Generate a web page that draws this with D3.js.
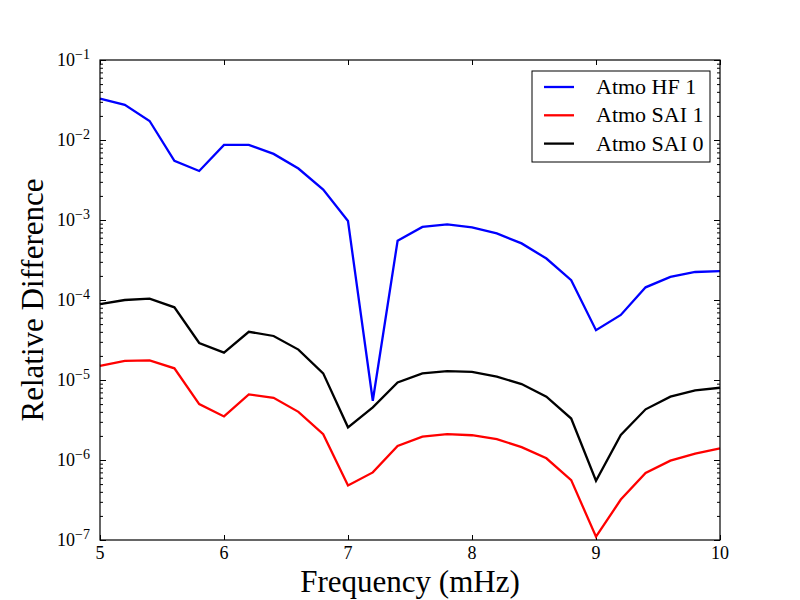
<!DOCTYPE html>
<html>
<head>
<meta charset="utf-8">
<script src="https://cdn.jsdelivr.net/npm/d3@7"></script>
<style>
  body { margin: 0; background: #fff; }
  text { font-family: "Liberation Serif", "DejaVu Serif", serif; fill: #000; }
</style>
</head>
<body>
<div id="chart"></div>
<script>
// Data
var freqs = [5.0, 5.2, 5.4, 5.6, 5.8, 6.0, 6.2, 6.4, 6.6, 6.8, 7.0, 7.2, 7.4,
  7.6, 7.8, 8.0, 8.2, 8.4, 8.6, 8.8, 9.0, 9.2, 9.4, 9.6, 9.8, 10.0];

var hf1 = [3.3e-2, 2.75e-2, 1.73e-2, 5.5e-3, 4.1e-3, 8.7e-3, 8.7e-3, 6.7e-3, 4.4e-3, 2.4e-3,
  9.7e-4, 5.5e-6, 5.5e-4, 8.2e-4, 8.8e-4, 8.1e-4, 6.8e-4, 5.1e-4, 3.3e-4, 1.77e-4,
  4.2e-5, 6.5e-5, 1.44e-4, 1.94e-4, 2.24e-4, 2.3e-4];

var sai1 = [1.5e-5, 1.73e-5, 1.76e-5, 1.4e-5, 5.0e-6, 3.5e-6, 6.6e-6, 6.0e-6, 4.0e-6, 2.1e-6,
  4.8e-7, 7.0e-7, 1.5e-6, 1.96e-6, 2.1e-6, 2.04e-6, 1.82e-6, 1.45e-6, 1.05e-6, 5.6e-7,
  1.1e-7, 3.2e-7, 6.9e-7, 9.8e-7, 1.2e-6, 1.4e-6];

var sai0 = [8.9e-5, 1.0e-4, 1.04e-4, 8.1e-5, 2.9e-5, 2.2e-5, 4.0e-5, 3.55e-5, 2.4e-5, 1.21e-5,
  2.56e-6, 4.55e-6, 9.3e-6, 1.21e-5, 1.29e-5, 1.26e-5, 1.1e-5, 8.9e-6, 6.2e-6, 3.3e-6,
  5.5e-7, 2.05e-6, 4.3e-6, 6.2e-6, 7.4e-6, 8.0e-6];

var seriesNames = ["Atmo HF 1", "Atmo SAI 1", "Atmo SAI 0"];
var seriesColors = ["#0000ff", "#ff0000", "#000000"];
var xTicks = [5, 6, 7, 8, 9, 10];
var yExponents = [-7, -6, -5, -4, -3, -2, -1];

var svgWidth = 800;
var svgHeight = 600;

var chartMargin = { top: 60, right: 80, bottom: 60, left: 100 };
var chartWidth = svgWidth - chartMargin.left - chartMargin.right;
var chartHeight = svgHeight - chartMargin.top - chartMargin.bottom;

var svg = d3.select("#chart")
  .append("svg")
  .attr("width", svgWidth)
  .attr("height", svgHeight);

var chartGroup = svg.append("g")
  .attr("transform", `translate(${chartMargin.left}, ${chartMargin.top})`);

var xScale = d3.scaleLinear().domain([5, 10]).range([0, chartWidth]);
var yScale = d3.scaleLog().domain([1e-7, 1e-1]).range([chartHeight, 0]);

var majorY = yExponents.map(e => Math.pow(10, e));
var minorY = [];
yExponents.slice(0, -1).forEach(function(e) {
  for (var k = 2; k <= 9; k++) minorY.push(k * Math.pow(10, e));
});

function styleAxis(g) {
  g.select(".domain").remove();
  g.selectAll("line").attr("stroke", "#000").attr("stroke-width", 1);
  g.selectAll("text").remove();
}

// x ticks, bottom and top, pointing inward
chartGroup.append("g")
  .attr("transform", `translate(0, ${chartHeight})`)
  .call(d3.axisBottom(xScale).tickValues(xTicks).tickSize(-5).tickFormat(""))
  .call(styleAxis);
chartGroup.append("g")
  .call(d3.axisTop(xScale).tickValues(xTicks).tickSize(-5).tickFormat(""))
  .call(styleAxis);

// y ticks, left and right, major and minor
chartGroup.append("g")
  .call(d3.axisLeft(yScale).tickValues(majorY).tickSize(-6).tickFormat(""))
  .call(styleAxis);
chartGroup.append("g")
  .call(d3.axisLeft(yScale).tickValues(minorY).tickSize(-3).tickFormat(""))
  .call(styleAxis);
chartGroup.append("g")
  .attr("transform", `translate(${chartWidth}, 0)`)
  .call(d3.axisRight(yScale).tickValues(majorY).tickSize(-6).tickFormat(""))
  .call(styleAxis);
chartGroup.append("g")
  .attr("transform", `translate(${chartWidth}, 0)`)
  .call(d3.axisRight(yScale).tickValues(minorY).tickSize(-3).tickFormat(""))
  .call(styleAxis);

// x tick labels
chartGroup.selectAll(".xlab")
  .data(xTicks)
  .enter()
  .append("text")
  .attr("x", d => xScale(d))
  .attr("y", chartHeight + 19)
  .attr("text-anchor", "middle")
  .attr("font-size", "18px")
  .text(d => d);

// y tick labels as 10^n
var yLabels = chartGroup.selectAll(".ylab")
  .data(yExponents)
  .enter()
  .append("text")
  .attr("x", -10)
  .attr("y", d => yScale(Math.pow(10, d)) + 6)
  .attr("text-anchor", "end")
  .attr("font-size", "18px");
yLabels.append("tspan").text("10");
yLabels.append("tspan")
  .attr("dy", -7)
  .attr("font-size", "14px")
  .text(d => "\u2212" + (-d));

// lines
var line = d3.line()
  .x(d => xScale(d[0]))
  .y(d => yScale(d[1]));

[hf1, sai1, sai0].forEach(function(vals, i) {
  chartGroup.append("path")
    .datum(freqs.map((f, j) => [f, vals[j]]))
    .attr("fill", "none")
    .attr("stroke", seriesColors[i])
    .attr("stroke-width", 2.3)
    .attr("stroke-linejoin", "miter")
    .attr("d", line);
});

// frame
chartGroup.append("rect")
  .attr("width", chartWidth)
  .attr("height", chartHeight)
  .attr("fill", "none")
  .attr("stroke", "#000")
  .attr("stroke-width", 1.2);

// legend
var legend = chartGroup.append("g")
  .attr("transform", `translate(${532 - chartMargin.left}, ${71 - chartMargin.top})`);
legend.append("rect")
  .attr("width", 178)
  .attr("height", 91)
  .attr("fill", "#fff")
  .attr("stroke", "#000")
  .attr("stroke-width", 1);
seriesNames.forEach(function(name, i) {
  var yy = 16 + i * 28.3;
  legend.append("line")
    .attr("x1", 12).attr("x2", 42)
    .attr("y1", yy).attr("y2", yy)
    .attr("stroke", seriesColors[i])
    .attr("stroke-width", 2.3);
  legend.append("text")
    .attr("x", 64)
    .attr("y", yy + 7)
    .attr("font-size", "22px")
    .text(name);
});

// axis titles
svg.append("text")
  .attr("x", chartMargin.left + chartWidth / 2)
  .attr("y", 592)
  .attr("text-anchor", "middle")
  .attr("font-size", "31px")
  .text("Frequency (mHz)");

svg.append("text")
  .attr("transform", `translate(43, ${chartMargin.top + chartHeight / 2}) rotate(-90)`)
  .attr("text-anchor", "middle")
  .attr("font-size", "31px")
  .text("Relative Difference");
</script>
</body>
</html>
